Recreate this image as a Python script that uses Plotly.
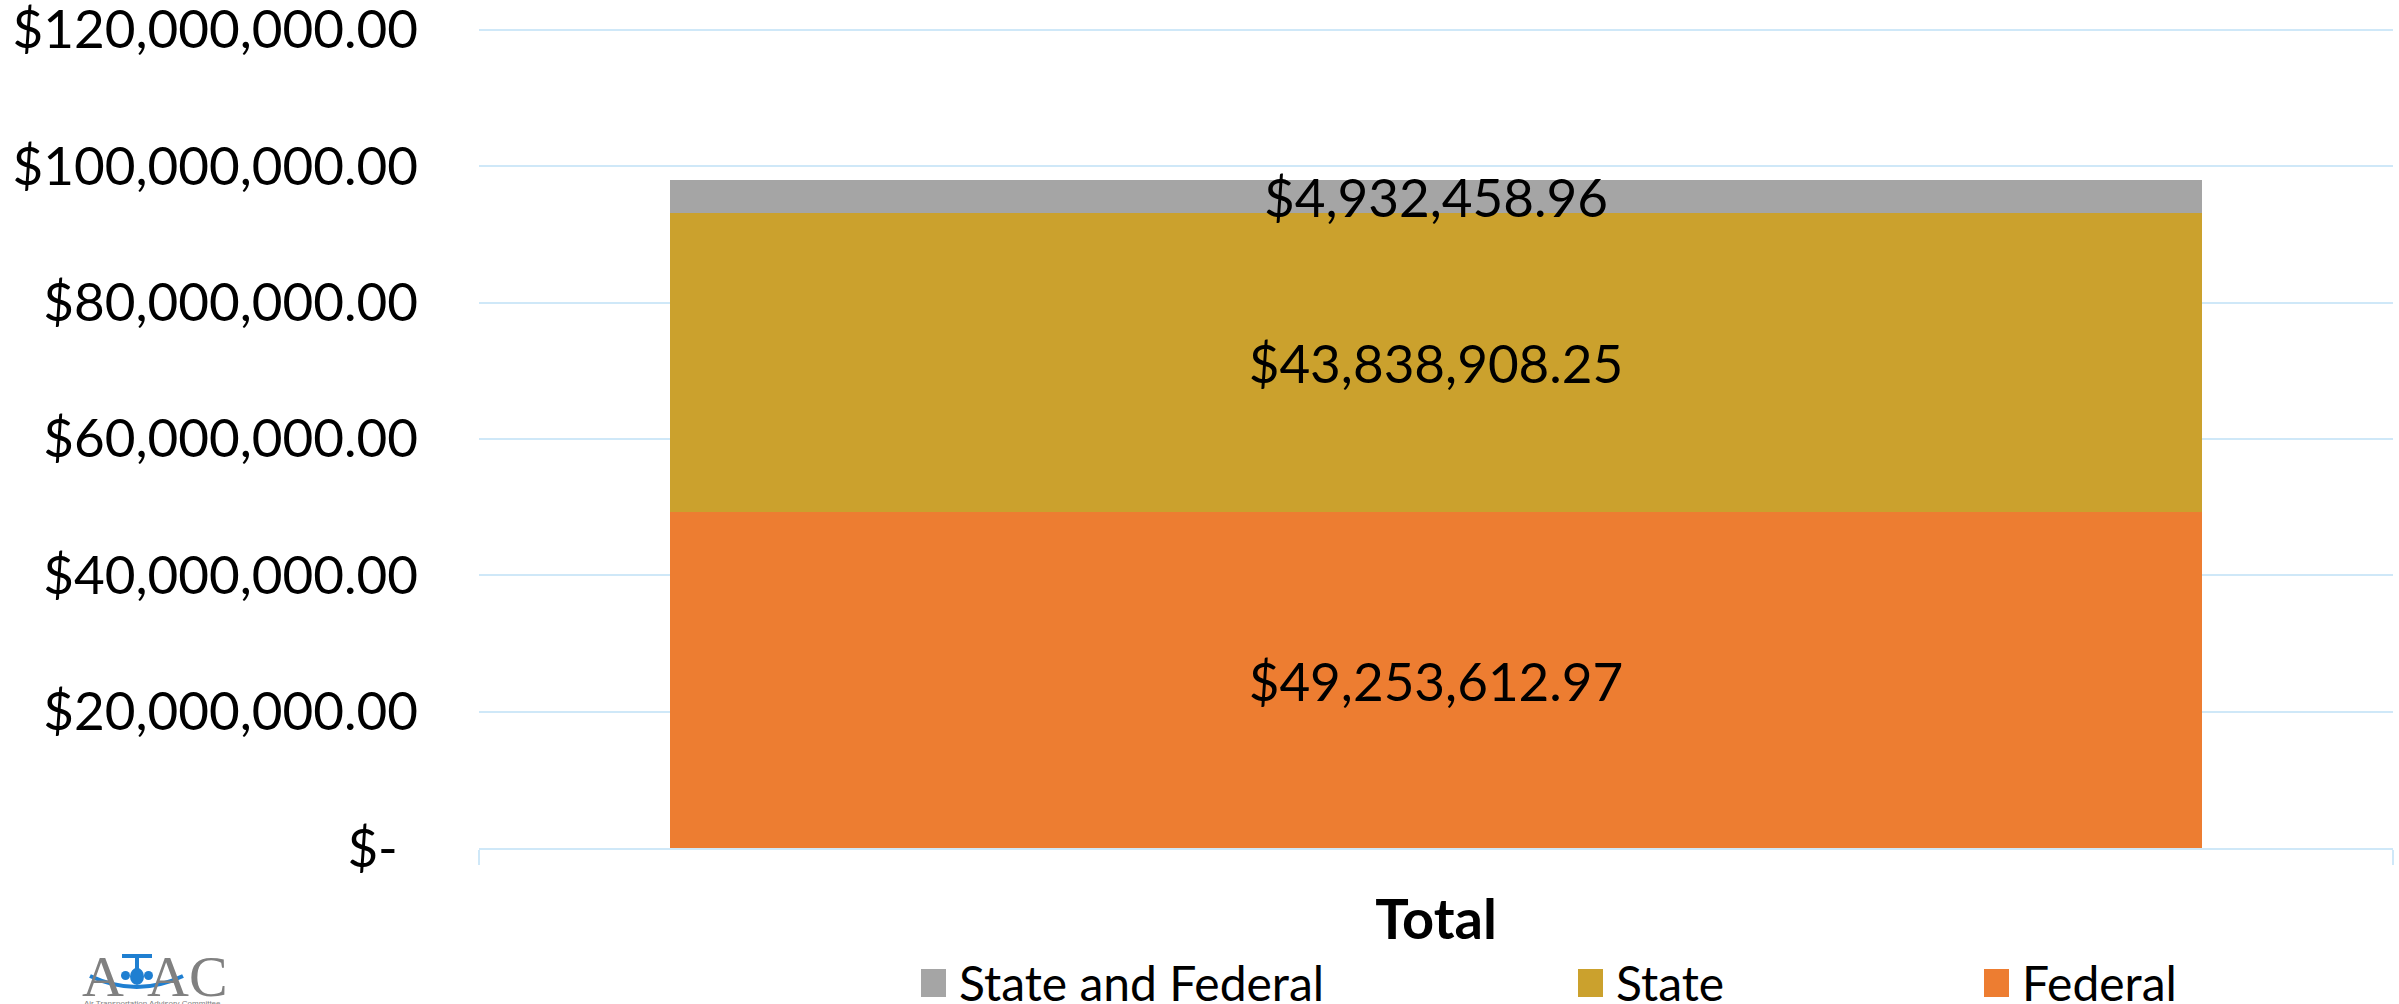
import plotly.graph_objects as go

# ---- data -------------------------------------------------------------
categories = ["Total"]
series_names = ["Federal", "State", "State and Federal"]
federal = [49253612.97]
state = [43838908.25]
state_and_federal = [4932458.96]
series_values = [federal, state, state_and_federal]
series_colors = ["#ED7D31", "#CBA12D", "#A5A5A5"]
legend_order = ["State and Federal", "State", "Federal"]

tick_values = [0, 20e6, 40e6, 60e6, 80e6, 100e6, 120e6]
tick_labels = [
    "$-\u00a0\u2009",
    "$20,000,000.00",
    "$40,000,000.00",
    "$60,000,000.00",
    "$80,000,000.00",
    "$100,000,000.00",
    "$120,000,000.00",
]

# ---- page geometry (pixels) -------------------------------------------
W, H = 2399, 1004
PL, PR, PT, PB = 479, 2393, 23, 848
Y_MAX = 121e6
FONT = "Lato"
GRID = "#CFE8F8"


def px(x):
    return (x - PL) / (PR - PL)


def py(y):
    return (PB - y) / (PB - PT)


fig = go.Figure()
for name, vals, color in zip(series_names, series_values, series_colors):
    fig.add_trace(
        go.Bar(
            x=categories,
            y=vals,
            name=name,
            marker=dict(color=color, line=dict(width=0)),
            texttemplate="$%{y:,.2f}",
            textposition="inside",
            insidetextanchor="middle",
            textangle=0,
            textfont=dict(family=FONT, size=53, color="#000000"),
            showlegend=False,
            hoverinfo="skip",
        )
    )

# ---- legend, drawn as swatches + labels ---------------------------------
legend_x = [921, 1578, 1984]
shapes = []
annotations = []
for name, x0 in zip(legend_order, legend_x):
    color = series_colors[series_names.index(name)]
    shapes.append(dict(type="rect", xref="paper", yref="paper",
                       x0=px(x0), x1=px(x0 + 25), y0=py(997), y1=py(969),
                       fillcolor=color, line=dict(width=0)))
    annotations.append(dict(text=name, xref="paper", yref="paper",
                            x=px(x0 + 36), y=py(982), xanchor="left", yanchor="middle",
                            showarrow=False,
                            font=dict(family=FONT, size=48, color="#000000")))

# ---- ATAC logo ----------------------------------------------------------
BLUE = "#1F7FD1"
LOGO_GRAY = "#808080"
for txt, x0 in (("A", 80), ("AC", 145)):
    annotations.append(dict(text=txt, xref="paper", yref="paper",
                            x=px(x0), y=py(977), xanchor="left", yanchor="middle",
                            showarrow=False,
                            font=dict(family="Liberation Sans Narrow", size=58, color=LOGO_GRAY)))
annotations.append(dict(text="Air Transportation Advisory Committee", xref="paper", yref="paper",
                        x=px(82), y=py(1004), xanchor="left", yanchor="middle",
                        showarrow=False,
                        font=dict(family="Liberation Sans", size=8, color=LOGO_GRAY)))
# tail, fin, fuselage, engines
shapes += [
    dict(type="rect", xref="paper", yref="paper", x0=px(122), x1=px(152), y0=py(958), y1=py(954),
         fillcolor=BLUE, line=dict(width=0)),
    dict(type="rect", xref="paper", yref="paper", x0=px(135), x1=px(139), y0=py(972), y1=py(955),
         fillcolor=BLUE, line=dict(width=0)),
    dict(type="circle", xref="paper", yref="paper", x0=px(130), x1=px(144), y0=py(985), y1=py(968),
         fillcolor=BLUE, line=dict(width=0)),
    dict(type="circle", xref="paper", yref="paper", x0=px(121), x1=px(130), y0=py(980), y1=py(971),
         fillcolor=BLUE, line=dict(width=0)),
    dict(type="circle", xref="paper", yref="paper", x0=px(144), x1=px(153), y0=py(980), y1=py(971),
         fillcolor=BLUE, line=dict(width=0)),
    dict(type="path", xref="paper", yref="paper",
         path=f"M {px(90)},{py(976)} Q {px(137)},{py(998)} {px(183)},{py(976)}",
         line=dict(color=BLUE, width=4)),
]

fig.update_layout(
    width=W,
    height=H,
    margin=dict(l=PL, r=W - PR, t=PT, b=H - PB, pad=0, autoexpand=False),
    barmode="stack",
    bargap=0.2,
    plot_bgcolor="#FFFFFF",
    paper_bgcolor="#FFFFFF",
    font=dict(family=FONT, color="#000000"),
    uniformtext=dict(minsize=53, mode="show"),
    shapes=shapes,
    annotations=annotations,
    showlegend=False,
)
fig.update_yaxes(
    range=[0, Y_MAX],
    tickvals=tick_values,
    ticktext=tick_labels,
    tickfont=dict(family=FONT, size=53, color="#000000"),
    ticklabeloverflow="allow",
    automargin=False,
    showgrid=True,
    gridcolor=GRID,
    gridwidth=2,
    zeroline=False,
    showline=False,
    ticks="",
    ticklabelstandoff=60,
)
fig.update_xaxes(
    tickfont=dict(family=FONT, size=56, color="#000000", weight="bold"),
    automargin=False,
    showline=True,
    linecolor=GRID,
    linewidth=2,
    ticks="outside",
    tickson="boundaries",
    ticklen=15,
    tickcolor=GRID,
    tickwidth=2,
    ticklabelstandoff=22,
)

fig.write_html("out.html")
